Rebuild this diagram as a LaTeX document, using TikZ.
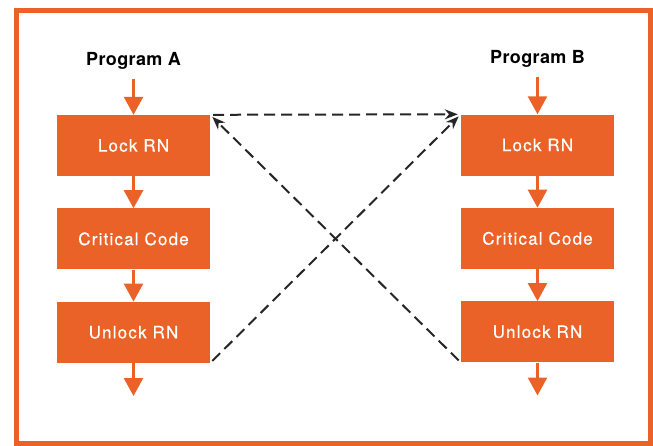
\documentclass[tikz,border=0pt]{standalone}
\usepackage{fontspec}
\usepackage{tikz}
\usetikzlibrary{positioning,arrows.meta}

\newfontfamily\boxfont[LetterSpace=7,FakeBold=0.6]{TeX Gyre Heros}
\newfontfamily\progfont[LetterSpace=2]{TeX Gyre Heros}
\definecolor{hporange}{RGB}{234,98,40}

\tikzset{
  procbox/.style={fill=hporange, minimum width=153pt, minimum height=61pt,
    text=white, font=\boxfont\fontsize{17}{20}\selectfont},
  proglabel/.style={font=\progfont\bfseries\fontsize{18}{21}\selectfont, inner sep=0pt, outer sep=9pt},
  flow/.style={hporange, line width=2.5pt, -{Triangle[width=19pt,length=18pt]}},
  lockarrow/.style={black!85, line width=2pt, dash pattern=on 11pt off 6pt,
    -{Stealth[length=13pt,width=10pt]}, shorten >=3pt, shorten <=3pt}
}

\begin{document}
\begin{tikzpicture}[x=1pt, y=-1pt, node distance=32pt]
\useasboundingbox (0,0) rectangle (653,445);
\draw[hporange, line width=5pt] (16,10.5) rectangle (650,443);

% program A
\node[procbox] (lockA) at (133.5,145.5) {Lock RN};
\node[procbox, below=of lockA] (critA) {Critical Code};
\node[procbox, below=of critA] (unlockA) {Unlock RN};
\node[proglabel] (progA) at (133.5,61) {Program A};
\coordinate[below=33pt of unlockA] (endA);

% program B
\node[procbox] (lockB) at (537.5,145) {Lock RN};
\node[procbox, below=of lockB] (critB) {Critical Code};
\node[procbox, below=of critB] (unlockB) {Unlock RN};
\node[proglabel] (progB) at (537.5,59) {Program B};
\coordinate[below=33pt of unlockB] (endB);

\draw[flow] (progA) -- (lockA);
\draw[flow] (lockA) -- (critA);
\draw[flow] (critA) -- (unlockA);
\draw[flow] (unlockA) -- (endA);
\draw[flow] (progB) -- (lockB);
\draw[flow] (lockB) -- (critB);
\draw[flow] (critB) -- (unlockB);
\draw[flow] (unlockB) -- (endB);

% lock handshake
\draw[lockarrow] (lockA.north east) -- (lockB.north west);
\draw[lockarrow] (unlockA.south east) -- (lockB.north west);
\draw[lockarrow] (unlockB.south west) -- (lockA.north east);
\end{tikzpicture}
\end{document}
